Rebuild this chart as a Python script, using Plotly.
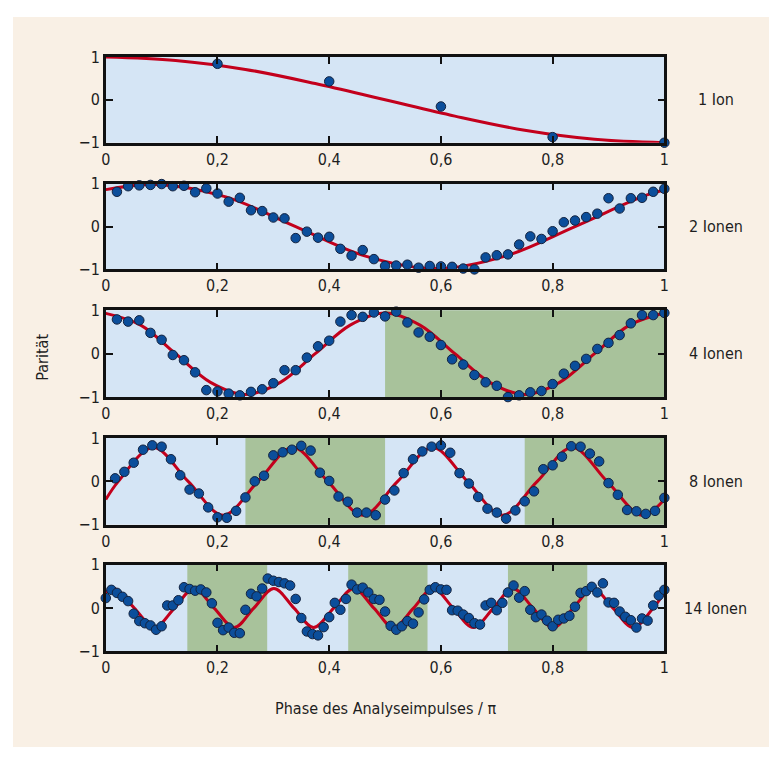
import plotly.graph_objects as go

# ---------------- data ----------------
x1 = [0.2, 0.4, 0.6, 0.8, 1.0]
y1 = [0.84, 0.43, -0.155, -0.87, -1.0]
fit1_x = [0, 0.125, 0.25, 0.375, 0.5, 0.625, 0.75, 0.875, 1.0]
fit1_y = [1.0, 0.92, 0.71, 0.38, 0.0, -0.38, -0.71, -0.92, -1.0]

x2 = [round(0.02 * i, 2) for i in range(1, 51)]
y2 = [0.81, 0.94, 0.96, 0.97, 0.99, 0.94, 0.95, 0.80, 0.89, 0.77,
      0.58, 0.67, 0.38, 0.36, 0.21, 0.19, -0.27, -0.12, -0.26, -0.24,
      -0.52, -0.68, -0.55, -0.76, -0.92, -0.91, -0.89, -0.96, -0.92, -0.93,
      -0.94, -0.98, -1.0, -0.72, -0.67, -0.65, -0.42, -0.23, -0.29, -0.11,
      0.10, 0.14, 0.22, 0.30, 0.66, 0.42, 0.66, 0.67, 0.81, 0.88]
fit2_x = [0, 0.09, 0.215, 0.34, 0.465, 0.59, 0.715, 0.84, 0.965, 1.0]
fit2_y = [0.86, 0.98, 0.69, 0.0, -0.69, -0.98, -0.69, 0.0, 0.72, 0.85]

x3 = [round(0.02 * i, 2) for i in range(1, 51)]
y3 = [0.79, 0.74, 0.77, 0.48, 0.32, -0.03, -0.15, -0.43, -0.84, -0.87,
      -0.92, -0.96, -0.88, -0.82, -0.68, -0.38, -0.38, -0.09, 0.17, 0.30,
      0.74, 0.89, 0.85, 0.95, 0.86, 0.97, 0.72, 0.49, 0.39, 0.20,
      -0.13, -0.25, -0.49, -0.66, -0.74, -1.0, -0.96, -0.89, -0.86, -0.70,
      -0.46, -0.28, -0.12, 0.11, 0.25, 0.43, 0.70, 0.89, 0.89, 0.94]
fit3_x = [0, 0.0625, 0.125, 0.1875, 0.25, 0.3125, 0.375, 0.4375, 0.5,
          0.5625, 0.625, 0.6875, 0.75, 0.8125, 0.875, 0.9375, 1.0]
fit3_y = [0.93, 0.66, 0.0, -0.66, -0.94, -0.66, 0.0, 0.66, 0.94,
          0.66, 0.0, -0.66, -0.94, -0.66, 0.0, 0.66, 0.94]

x4 = [round(i / 60, 4) for i in range(1, 61)]
y4 = [0.07, 0.22, 0.43, 0.73, 0.83, 0.80, 0.51, 0.14, -0.19, -0.28,
      -0.60, -0.83, -0.84, -0.68, -0.37, 0.0, 0.13, 0.60, 0.67, 0.73,
      0.82, 0.71, 0.20, 0.01, -0.35, -0.47, -0.72, -0.72, -0.78, -0.42,
      -0.21, 0.19, 0.51, 0.69, 0.80, 0.83, 0.66, 0.19, -0.05, -0.36,
      -0.63, -0.72, -0.86, -0.67, -0.46, -0.23, 0.28, 0.37, 0.57, 0.81,
      0.80, 0.64, 0.46, -0.04, -0.31, -0.66, -0.69, -0.75, -0.68, -0.38]
fit4_x = [0, 0.0225, 0.085, 0.1475, 0.21, 0.2725, 0.335, 0.3975, 0.46,
          0.5225, 0.585, 0.6475, 0.71, 0.7725, 0.835, 0.8975, 0.96, 1.0]
fit4_y = [-0.42, 0.0, 0.78, 0.0, -0.78, 0.0, 0.78, 0.0, -0.78,
          0.0, 0.78, 0.0, -0.78, 0.0, 0.78, 0.0, -0.78, -0.42]

x5 = [round(0.01 * i, 2) for i in range(0, 101)]
y5 = [0.23, 0.42, 0.35, 0.26, 0.16, -0.13, -0.30, -0.35, -0.40, -0.50,
      -0.42, 0.06, 0.06, 0.18, 0.48, 0.44, 0.40, 0.43, 0.36, 0.11,
      -0.34, -0.51, -0.45, -0.57, -0.58, -0.04, 0.33, 0.27, 0.45, 0.68,
      0.63, 0.60, 0.57, 0.52, 0.21, -0.23, -0.54, -0.60, -0.63, -0.44,
      -0.21, 0.12, -0.04, 0.21, 0.54, 0.43, 0.47, 0.36, 0.21, 0.19,
      -0.08, -0.41, -0.50, -0.42, -0.30, -0.36, -0.10, 0.20, 0.42, 0.48,
      0.43, 0.42, -0.05, -0.06, -0.15, -0.23, -0.35, -0.38, 0.06, 0.12,
      -0.05, 0.12, 0.36, 0.52, 0.24, 0.39, -0.04, -0.21, -0.15, -0.29,
      -0.42, -0.27, -0.24, -0.18, 0.03, 0.35, 0.39, 0.49, 0.36, 0.57,
      0.13, 0.12, -0.08, -0.20, -0.28, -0.45, -0.24, -0.29, 0.06, 0.29,
      0.42]
fit5_x = [0, 0.015, 0.051, 0.087, 0.123, 0.158, 0.194, 0.230, 0.265, 0.301,
          0.337, 0.372, 0.408, 0.444, 0.480, 0.515, 0.551, 0.586, 0.622,
          0.658, 0.694, 0.729, 0.765, 0.801, 0.837, 0.872, 0.908, 0.944,
          0.980, 1.0]
fit5_y = [0.36, 0.45, 0.0, -0.45, 0.0, 0.45, 0.0, -0.45, 0.0, 0.45,
          0.0, -0.45, 0.0, 0.45, 0.0, -0.45, 0.0, 0.45, 0.0,
          -0.45, 0.0, 0.45, 0.0, -0.45, 0.0, 0.45, 0.0, -0.45,
          0.0, 0.36]

green3 = [(0.5, 1.0)]
green4 = [(0.25, 0.5), (0.75, 1.0)]
green5 = [(0.146, 0.289), (0.434, 0.576), (0.72, 0.862)]

panel_labels = ["1 Ion", "2 Ionen", "4 Ionen", "8 Ionen", "14 Ionen"]
x_ticks = [0, 0.2, 0.4, 0.6, 0.8, 1.0]
y_ticks = [-1, 0, 1]
x_title = "Phase des Analyseimpulses / π"
y_title = "Parität"

# ---------------- styling ----------------
# The page body keeps an 8px margin, so the figure is 16px smaller than the window
OFF = 8
W, H = 780 - 2 * OFF, 762 - 2 * OFF


def px(x):
    return (x - OFF) / W


def py(y):
    return 1 - (y - OFF) / H


FONT = "Liberation Sans Narrow, DejaVu Sans Condensed, Roboto Condensed, sans-serif"
BLUE_BG = "#d5e5f5"
GREEN = "#a8c29b"
RED = "#c3001c"
DOT = "#0b4e9b"
DOT_EDGE = "#14233f"
BEIGE = "#f9f0e5"
INK = "#1e1e1e"

panels_px = [(49, 137), (179, 267), (309, 398), (440, 529), (570, 659)]
x_left, x_right = 102, 668

datasets = [(x1, y1, fit1_x, fit1_y, []),
            (x2, y2, fit2_x, fit2_y, []),
            (x3, y3, fit3_x, fit3_y, green3),
            (x4, y4, fit4_x, fit4_y, green4),
            (x5, y5, fit5_x, fit5_y, green5)]

fig = go.Figure()
shapes = [dict(type="rect", xref="paper", yref="paper",
               x0=max(px(6), 0), x1=px(774), y0=py(757), y1=min(py(7), 1),
               fillcolor=BEIGE, line=dict(width=0), layer="below")]
annotations = []
layout_axes = {}

for i, (xs, ys, fx, fy, greens) in enumerate(datasets):
    n = i + 1
    xa = "x" if n == 1 else f"x{n}"
    ya = "y" if n == 1 else f"y{n}"
    top, bot = panels_px[i]
    fig.add_trace(go.Scatter(x=fx, y=fy, mode="lines", xaxis=xa, yaxis=ya,
                             line=dict(color=RED, width=3, shape="spline", smoothing=1.0),
                             hoverinfo="skip", showlegend=False))
    fig.add_trace(go.Scatter(x=xs, y=ys, mode="markers", xaxis=xa, yaxis=ya,
                             marker=dict(color=DOT, size=9.5, line=dict(color=DOT_EDGE, width=1)),
                             cliponaxis=False, showlegend=False))
    shapes.append(dict(type="rect", xref=f"{xa} domain", yref=f"{ya} domain",
                       x0=0, x1=1, y0=0, y1=1, fillcolor=BLUE_BG,
                       line=dict(width=0), layer="below"))
    for g0, g1 in greens:
        shapes.append(dict(type="rect", xref=xa, yref=f"{ya} domain",
                           x0=g0, x1=g1, y0=0, y1=1, fillcolor=GREEN,
                           line=dict(width=0), layer="below"))
    key_x = "xaxis" if n == 1 else f"xaxis{n}"
    key_y = "yaxis" if n == 1 else f"yaxis{n}"
    layout_axes[key_x] = dict(
        domain=[px(x_left), px(x_right)], anchor=ya, range=[0, 1],
        tickvals=x_ticks, ticks="inside", ticklen=7, tickwidth=2, tickcolor="#111",
        showline=True, linecolor="#111", linewidth=2.5, mirror="ticks",
        showgrid=False, zeroline=False, tickformat=".1~f",
        tickfont=dict(family=FONT, size=16, color=INK))
    layout_axes[key_y] = dict(
        domain=[py(bot), py(top)], anchor=xa, range=[-1, 1],
        tickvals=y_ticks, ticks="inside", ticklen=7, tickwidth=2, tickcolor="#111",
        showline=True, linecolor="#111", linewidth=2.5, mirror="ticks",
        showgrid=False, zeroline=False,
        tickfont=dict(family=FONT, size=16, color=INK))
    annotations.append(dict(x=px(720), y=py((top + bot) / 2), xref="paper", yref="paper",
                            text=panel_labels[i], showarrow=False, xanchor="center", yanchor="middle",
                            font=dict(family=FONT, size=16, color=INK)))

annotations.append(dict(x=px(385), y=py(718), xref="paper", yref="paper", text=x_title,
                        showarrow=False, xanchor="center", yanchor="middle",
                        font=dict(family=FONT, size=16, color=INK)))
annotations.append(dict(x=px(38), y=py(357), xref="paper", yref="paper", text=y_title,
                        showarrow=False, xanchor="center", yanchor="middle", textangle=-90,
                        font=dict(family=FONT, size=16, color=INK)))

fig.update_layout(width=W, height=H, margin=dict(l=0, r=0, t=0, b=0),
                  paper_bgcolor="white", plot_bgcolor=BLUE_BG,
                  separators=",.", shapes=shapes, annotations=annotations,
                  font=dict(family=FONT, size=16, color=INK), **layout_axes)

fig.write_html("out.html", config={"displayModeBar": False})
